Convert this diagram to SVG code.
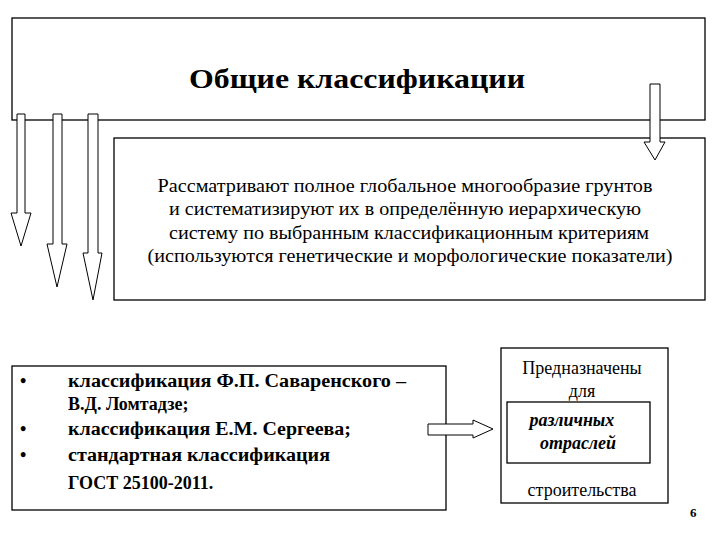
<svg xmlns="http://www.w3.org/2000/svg" width="720" height="540" viewBox="0 0 720 540">
<style>
.b{fill:#fff;stroke:#000;stroke-width:1.3}
text{font-family:"Liberation Serif","Times New Roman","DejaVu Serif",serif;fill:#000}
.a{fill:#fff;stroke:#000;stroke-width:1}
</style>
<rect width="720" height="540" fill="#fff"/>
<g id="title"><rect class="b" x="12" y="18" width="693" height="102"/>
<text x="357" y="88" font-size="28" font-weight="bold" text-anchor="middle" textLength="336" lengthAdjust="spacingAndGlyphs">Общие классификации</text></g>
<g id="desc"><rect class="b" x="114" y="138" width="591" height="162"/>
<g font-size="18" text-anchor="middle">
<text x="405" y="192" textLength="495" lengthAdjust="spacingAndGlyphs">Рассматривают полное глобальное многообразие грунтов</text>
<text x="405" y="215" textLength="472" lengthAdjust="spacingAndGlyphs">и систематизируют их в определённую иерархическую</text>
<text x="409" y="239" textLength="480" lengthAdjust="spacingAndGlyphs">систему по выбранным классификационным критериям</text>
<text x="410" y="262" textLength="525" lengthAdjust="spacingAndGlyphs">(используются генетические и морфологические показатели)</text></g></g>
<g id="list"><rect class="b" x="12" y="366" width="434" height="144"/>
<g font-size="18" font-weight="bold">
<text x="20" y="387">•</text><text x="68" y="387" textLength="338" lengthAdjust="spacingAndGlyphs">классификация Ф.П. Саваренского –</text>
<text x="68" y="410">В.Д. Ломтадзе;</text>
<text x="20" y="435">•</text><text x="68" y="435" textLength="283" lengthAdjust="spacingAndGlyphs">классификация Е.М. Сергеева;</text>
<text x="20" y="461">•</text><text x="68" y="461" textLength="262" lengthAdjust="spacingAndGlyphs">стандартная классификация</text>
<text x="68" y="489">ГОСТ 25100-2011.</text></g></g>
<g id="purpose"><rect class="b" x="501" y="348" width="167" height="155"/>
<rect class="b" x="507" y="402" width="143" height="61"/>
<g font-size="18" text-anchor="middle">
<text x="582" y="374">Предназначены</text>
<text x="582" y="397">для</text>
<text x="572" y="426" font-style="italic" font-weight="bold">различных</text>
<text x="578" y="449" font-style="italic" font-weight="bold">отраслей</text>
<text x="582" y="496">строительства</text></g></g>
<g id="connectors">
<path class="a" d="M17 114V213H11L21 246L31 213H25V114Z"/>
<path class="a" d="M53 114V244H47L57 287L67 244H62V114Z"/>
<path class="a" d="M88 114V253H83L93 300L102 253H98V114Z"/>
<path class="a" d="M650 84V142H644L655 160L665 142H660V84Z"/>
<path class="a" d="M428 424H473V420L493 429L473 438V435H428Z"/>
</g>
<text x="690" y="517" font-size="13" font-weight="bold">6</text>
</svg>
